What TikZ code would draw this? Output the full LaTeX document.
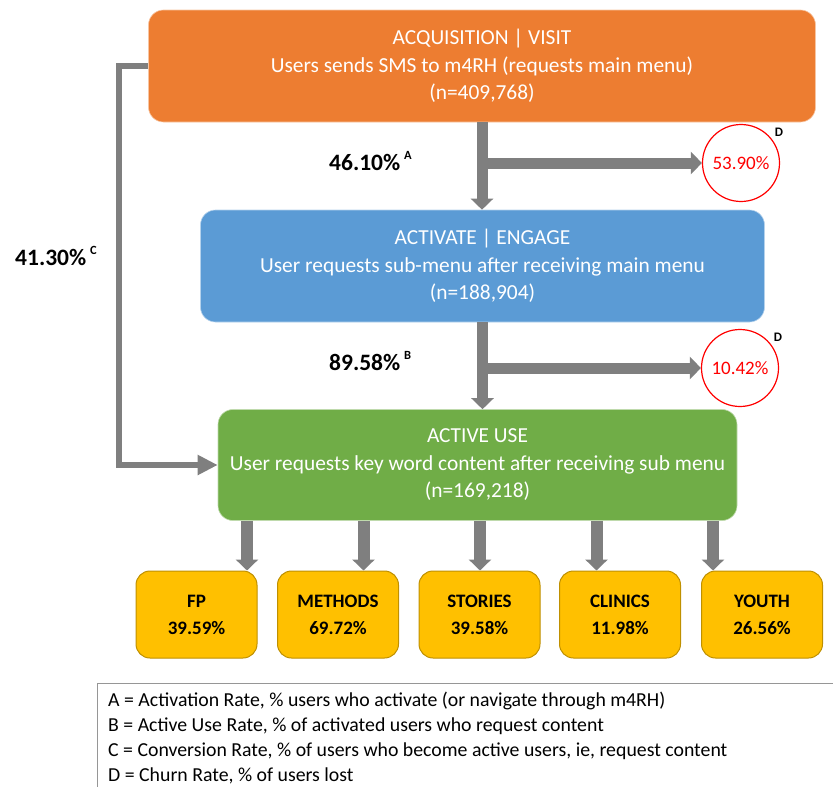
\documentclass[tikz,border=0pt]{standalone}
\usepackage{fontspec}
\setmainfont{Carlito}
\usetikzlibrary{arrows.meta}
\definecolor{stageOrange}{RGB}{237,125,49}
\definecolor{stageBlue}{RGB}{91,155,213}
\definecolor{stageGreen}{RGB}{112,173,71}
\definecolor{topicGold}{RGB}{255,192,0}
\definecolor{topicEdge}{RGB}{191,144,0}
\definecolor{flowGray}{RGB}{127,127,127}
\definecolor{churnRed}{RGB}{255,0,0}
\definecolor{legendEdge}{RGB}{150,150,150}
\newcommand{\RateTag}[2]{#1\,\raisebox{0.5em}{\fontsize{12.5}{12.5}\selectfont #2}}
\tikzset{
  stagebox/.style={rounded corners=15pt,fill=#1,draw=white!55!#1,line width=0.6pt,text=white,align=center,inner sep=0pt,font=\fontsize{21.4}{27.5}\selectfont},
  topicbox/.style={rounded corners=14pt,fill=topicGold,draw=topicEdge,line width=1pt,minimum width=121pt,minimum height=87pt,align=center,inner sep=0pt,font=\bfseries\fontsize{19}{27}\selectfont},
  churnmark/.style={circle,draw=churnRed,line width=1.2pt,minimum size=77pt,inner sep=0pt,text=churnRed,font=\fontsize{19}{19}\selectfont},
  churntag/.style={anchor=south west,inner sep=0pt,xshift=6pt,yshift=-1pt,font=\bfseries\fontsize{13}{13}\selectfont},
  ratelabel/.style={anchor=west,inner sep=0pt,font=\bfseries\fontsize{23.5}{24}\selectfont},
  flowarrow/.style={draw=flowGray,line width=11pt,-{Triangle[width=22pt,length=11pt]}},
  looparrow/.style={draw=flowGray,line width=6pt,-{Triangle[width=19pt,length=20pt]}},
}

\begin{document}
\begin{tikzpicture}[x=1pt,y=-1pt]
\useasboundingbox (0,0) rectangle (833,787);
\node[stagebox=stageOrange,minimum width=667pt,minimum height=112pt] (acq) at (482,66)
  {ACQUISITION | VISIT\\Users sends SMS to m4RH (requests main menu)\\(n=409,768)};
\node[stagebox=stageBlue,minimum width=564pt,minimum height=112pt] (eng) at (482.5,266)
  {ACTIVATE | ENGAGE\\User requests sub-menu after receiving main menu\\(n=188,904)};
\node[stagebox=stageGreen,minimum width=519pt,minimum height=111pt] (use) at (477.5,465)
  {ACTIVE USE\\User requests key word content after receiving sub menu\\(n=169,218)};

\node[churnmark] (churnA) at (741,163) {53.90\%};
\node[churnmark] (churnB) at (740,368) {10.42\%};
\node[churntag] (tagA) at (churnA.north east) {D};
\node[churntag] (tagB) at (churnB.north east) {D};

\node[ratelabel] (rateA) at (329,161) {\RateTag{46.10\%}{A}};
\node[ratelabel] (rateB) at (329,361) {\RateTag{89.58\%}{B}};
\node[ratelabel] (rateC) at (15,256) {\RateTag{41.30\%}{C}};

\coordinate (splitA) at (acq.south |- churnA);
\coordinate (splitB) at (eng.south |- churnB);
\draw[flowarrow] (acq.south) -- (acq.south |- eng.north);
\draw[flowarrow] (splitA) -- (churnA.west);
\draw[flowarrow] (eng.south) -- (eng.south |- use.north);
\draw[flowarrow] (splitB) -- (churnB.west);
\draw[looparrow] (acq.west) -- ++(-29,0) |- (use.west);

\foreach \name/\cx/\ttl/\share in {fp/196.5/FP/39.59,methods/338/METHODS/69.72,stories/479.5/STORIES/39.58,clinics/620/CLINICS/11.98,youth/762/YOUTH/26.56}
  \node[topicbox] (\name) at (\cx,614.5) {\ttl\\\share\%};
\foreach \name/\ax in {fp/247,methods/363.5,stories/480,clinics/596.5,youth/713}
  \draw[flowarrow,line width=12pt] (\ax,0 |- use.south) -- (\ax,0 |- \name.north);

\draw[legendEdge,line width=0.8pt] (97,683) rectangle (870,820);
\node[anchor=west,align=left,inner sep=0pt,font=\fontsize{19.8}{25}\selectfont] (legend) at (108,738)
  {A = Activation Rate, \% users who activate (or navigate through m4RH)\\
   B = Active Use Rate, \% of activated users who request content\\
   C = Conversion Rate, \% of users who become active users, ie, request content\\
   D = Churn Rate, \% of users lost};
\end{tikzpicture}
\end{document}
